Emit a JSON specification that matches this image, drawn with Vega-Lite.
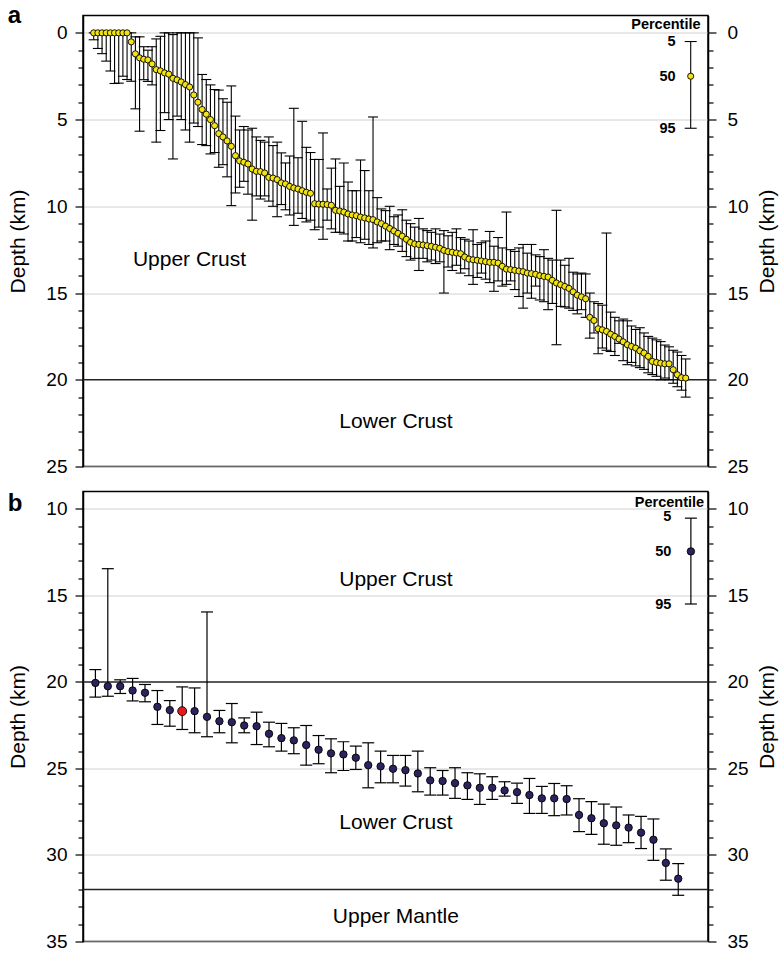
{
  "$schema": "https://vega.github.io/schema/vega-lite/v6.json",
  "padding": {"left": 7, "right": 2, "top": 2.5, "bottom": 2},
  "config": {
    "font": "Liberation Sans",
    "view": {"stroke": "black", "strokeWidth": 1.5},
    "axis": {
      "labelFontSize": 19, "labelColor": "black", "labelFont": "Liberation Sans",
      "titleFontSize": 21, "titleFontWeight": "normal", "titleColor": "black", "titleFont": "Liberation Sans",
      "domainColor": "black", "domainWidth": 1.5, "tickColor": "black", "tickWidth": 1.2,
      "labelPadding": 6, "labelOverlap": false, "titlePadding": 10
    }
  },
  "datasets": {
    "pa": [
      {"i":1,"m":0,"lo":0,"hi":0.4},{"i":2,"m":0,"lo":0,"hi":0.9},{"i":3,"m":0,"lo":0,"hi":1.2},{"i":4,"m":0,"lo":0,"hi":1.63},
      {"i":5,"m":0,"lo":0,"hi":2.2},{"i":6,"m":0,"lo":0,"hi":2.92},{"i":7,"m":0,"lo":0,"hi":2.9},{"i":8,"m":0,"lo":0,"hi":2.5},
      {"i":9,"m":0,"lo":0,"hi":2.69},{"i":10,"m":0.52,"lo":0,"hi":2.79},{"i":11,"m":1.21,"lo":0.23,"hi":4.38},{"i":12,"m":1.44,"lo":0.23,"hi":5.67},
      {"i":13,"m":1.52,"lo":0.8,"hi":2.7},{"i":14,"m":1.56,"lo":1.0,"hi":2.8},{"i":15,"m":1.79,"lo":0.8,"hi":3.0},{"i":16,"m":2.12,"lo":0.35,"hi":6.3},
      {"i":17,"m":2.19,"lo":0.2,"hi":5.63},{"i":18,"m":2.31,"lo":0,"hi":4.6},{"i":19,"m":2.38,"lo":0,"hi":5.0},{"i":20,"m":2.62,"lo":0.1,"hi":7.27},
      {"i":21,"m":2.71,"lo":0,"hi":4.8},{"i":22,"m":2.83,"lo":0,"hi":5.0},{"i":23,"m":2.98,"lo":0,"hi":5.6},{"i":24,"m":3.12,"lo":0,"hi":6.3},
      {"i":25,"m":3.58,"lo":0,"hi":5.2},{"i":26,"m":4.0,"lo":0.29,"hi":5.4},{"i":27,"m":4.42,"lo":2.4,"hi":6.44},{"i":28,"m":4.69,"lo":2.69,"hi":6.5},
      {"i":29,"m":5.0,"lo":3.0,"hi":6.98},{"i":30,"m":5.35,"lo":3.27,"hi":6.9},{"i":31,"m":5.81,"lo":3.3,"hi":7.75},{"i":32,"m":6.0,"lo":3.8,"hi":7.6},
      {"i":33,"m":6.23,"lo":4.0,"hi":8.3},{"i":34,"m":6.54,"lo":3.06,"hi":9.96},{"i":35,"m":7.08,"lo":4.8,"hi":9.23},{"i":36,"m":7.38,"lo":5.6,"hi":8.9},
      {"i":37,"m":7.46,"lo":5.4,"hi":8.56},{"i":38,"m":7.56,"lo":5.6,"hi":9.3},{"i":39,"m":7.85,"lo":5.5,"hi":10.8},{"i":40,"m":7.98,"lo":6.0,"hi":9.4},
      {"i":41,"m":8.0,"lo":6.2,"hi":9.58},{"i":42,"m":8.08,"lo":6.3,"hi":9.4},{"i":43,"m":8.33,"lo":6.0,"hi":9.7},{"i":44,"m":8.37,"lo":6.5,"hi":10.0},
      {"i":45,"m":8.46,"lo":6.3,"hi":10.6},{"i":46,"m":8.65,"lo":6.92,"hi":9.9},{"i":47,"m":8.71,"lo":7.5,"hi":10.2},{"i":48,"m":8.85,"lo":7.1,"hi":10.5},
      {"i":49,"m":8.94,"lo":4.35,"hi":11.1},{"i":50,"m":9.0,"lo":7.2,"hi":10.4},{"i":51,"m":9.1,"lo":5.1,"hi":10.7},{"i":52,"m":9.19,"lo":6.6,"hi":10.9},
      {"i":53,"m":9.25,"lo":6.9,"hi":10.8},{"i":54,"m":9.85,"lo":7.3,"hi":11.35},{"i":55,"m":9.87,"lo":7.3,"hi":11.2},{"i":56,"m":9.88,"lo":5.77,"hi":11.9},
      {"i":57,"m":9.9,"lo":9.0,"hi":10.8},{"i":58,"m":9.94,"lo":7.8,"hi":11.3},{"i":59,"m":10.23,"lo":7.27,"hi":11.5},{"i":60,"m":10.27,"lo":8.85,"hi":11.5},
      {"i":61,"m":10.33,"lo":7.5,"hi":11.6},{"i":62,"m":10.44,"lo":8.6,"hi":12.0},{"i":63,"m":10.5,"lo":9.1,"hi":12.0},{"i":64,"m":10.54,"lo":9.1,"hi":11.8},
      {"i":65,"m":10.62,"lo":7.33,"hi":12.1},{"i":66,"m":10.67,"lo":7.94,"hi":11.9},{"i":67,"m":10.73,"lo":9.1,"hi":12.2},{"i":68,"m":10.77,"lo":4.85,"hi":12.4},
      {"i":69,"m":10.9,"lo":9.5,"hi":12.1},{"i":70,"m":11.0,"lo":10.15,"hi":12.0},{"i":71,"m":11.14,"lo":10.25,"hi":12.0},{"i":72,"m":11.28,"lo":10.0,"hi":12.5},
      {"i":73,"m":11.42,"lo":10.6,"hi":12.2},{"i":74,"m":11.56,"lo":10.5,"hi":12.3},{"i":75,"m":11.72,"lo":10.2,"hi":12.6},{"i":76,"m":11.9,"lo":10.8,"hi":12.9},
      {"i":77,"m":12.08,"lo":11.0,"hi":13.1},{"i":78,"m":12.17,"lo":11.2,"hi":13.0},{"i":79,"m":12.2,"lo":10.7,"hi":13.7},{"i":80,"m":12.23,"lo":11.3,"hi":13.0},
      {"i":81,"m":12.27,"lo":11.4,"hi":13.2},{"i":82,"m":12.31,"lo":11.5,"hi":13.1},{"i":83,"m":12.36,"lo":11.3,"hi":13.3},{"i":84,"m":12.42,"lo":11.6,"hi":13.2},
      {"i":85,"m":12.54,"lo":11.4,"hi":15.0},{"i":86,"m":12.61,"lo":11.7,"hi":13.5},{"i":87,"m":12.65,"lo":11.5,"hi":13.7},{"i":88,"m":12.69,"lo":11.3,"hi":13.4},
      {"i":89,"m":12.73,"lo":11.8,"hi":13.85},{"i":90,"m":12.92,"lo":11.9,"hi":13.6},{"i":91,"m":13.04,"lo":12.0,"hi":14.0},{"i":92,"m":13.08,"lo":11.35,"hi":14.5},
      {"i":93,"m":13.11,"lo":12.2,"hi":14.1},{"i":94,"m":13.15,"lo":12.1,"hi":13.85},{"i":95,"m":13.19,"lo":12.0,"hi":14.2},{"i":96,"m":13.23,"lo":11.45,"hi":14.4},
      {"i":97,"m":13.23,"lo":12.3,"hi":14.9},{"i":98,"m":13.27,"lo":11.8,"hi":14.3},{"i":99,"m":13.46,"lo":12.4,"hi":14.6},{"i":100,"m":13.62,"lo":10.33,"hi":14.5},
      {"i":101,"m":13.65,"lo":12.5,"hi":14.3},{"i":102,"m":13.69,"lo":12.6,"hi":14.8},{"i":103,"m":13.73,"lo":12.4,"hi":15.2},{"i":104,"m":13.77,"lo":12.2,"hi":15.87},
      {"i":105,"m":13.85,"lo":12.7,"hi":15.0},{"i":106,"m":13.88,"lo":12.2,"hi":15.3},{"i":107,"m":13.92,"lo":12.8,"hi":14.6},{"i":108,"m":14.0,"lo":12.9,"hi":15.4},
      {"i":109,"m":14.04,"lo":12.5,"hi":15.5},{"i":110,"m":14.08,"lo":13.0,"hi":15.96},{"i":111,"m":14.27,"lo":13.1,"hi":15.6},{"i":112,"m":14.42,"lo":10.23,"hi":17.98},
      {"i":113,"m":14.52,"lo":13.1,"hi":15.77},{"i":114,"m":14.62,"lo":13.4,"hi":15.8},{"i":115,"m":14.73,"lo":13.0,"hi":15.87},{"i":116,"m":14.93,"lo":13.8,"hi":16.0},
      {"i":117,"m":15.12,"lo":13.9,"hi":16.2},{"i":118,"m":15.22,"lo":13.85,"hi":15.96},{"i":119,"m":15.33,"lo":13.9,"hi":16.4},{"i":120,"m":16.4,"lo":15.0,"hi":17.6},
      {"i":121,"m":16.58,"lo":15.5,"hi":17.3},{"i":122,"m":17.06,"lo":15.6,"hi":18.5},{"i":123,"m":17.12,"lo":15.7,"hi":18.17},{"i":124,"m":17.21,"lo":11.54,"hi":18.3},
      {"i":125,"m":17.37,"lo":16.1,"hi":18.37},{"i":126,"m":17.5,"lo":16.4,"hi":18.6},{"i":127,"m":17.65,"lo":16.6,"hi":17.9},{"i":128,"m":17.81,"lo":16.5,"hi":18.9},
      {"i":129,"m":17.98,"lo":16.6,"hi":19.13},{"i":130,"m":18.08,"lo":16.9,"hi":19.0},{"i":131,"m":18.17,"lo":17.1,"hi":19.2},{"i":132,"m":18.33,"lo":17.0,"hi":19.3},
      {"i":133,"m":18.46,"lo":17.3,"hi":19.4},{"i":134,"m":18.65,"lo":17.5,"hi":19.6},{"i":135,"m":18.94,"lo":17.6,"hi":19.7},{"i":136,"m":19.0,"lo":17.7,"hi":19.8},
      {"i":137,"m":19.04,"lo":17.8,"hi":20.0},{"i":138,"m":19.08,"lo":18.0,"hi":19.9},{"i":139,"m":19.08,"lo":18.1,"hi":20.0},{"i":140,"m":19.42,"lo":18.3,"hi":20.2},
      {"i":141,"m":19.71,"lo":18.4,"hi":20.4},{"i":142,"m":19.88,"lo":18.6,"hi":20.6},{"i":143,"m":19.9,"lo":18.8,"hi":21.0}
    ],
    "pb": [
      {"i":1,"m":20.06,"lo":19.29,"hi":20.88,"hl":"n"},{"i":2,"m":20.25,"lo":13.46,"hi":20.83,"hl":"n"},{"i":3,"m":20.25,"lo":19.88,"hi":20.67,"hl":"n"},
      {"i":4,"m":20.5,"lo":19.8,"hi":21.1,"hl":"n"},{"i":5,"m":20.63,"lo":20.15,"hi":21.15,"hl":"n"},{"i":6,"m":21.44,"lo":20.5,"hi":22.46,"hl":"n"},
      {"i":7,"m":21.63,"lo":21.08,"hi":22.56,"hl":"n"},{"i":8,"m":21.69,"lo":20.29,"hi":22.75,"hl":"y"},{"i":9,"m":21.69,"lo":20.35,"hi":22.94,"hl":"n"},
      {"i":10,"m":22.02,"lo":15.96,"hi":23.17,"hl":"n"},{"i":11,"m":22.27,"lo":21.65,"hi":22.94,"hl":"n"},{"i":12,"m":22.33,"lo":21.25,"hi":23.52,"hl":"n"},
      {"i":13,"m":22.52,"lo":22.08,"hi":22.94,"hl":"n"},{"i":14,"m":22.56,"lo":21.75,"hi":23.62,"hl":"n"},{"i":15,"m":23.0,"lo":22.33,"hi":23.75,"hl":"n"},
      {"i":16,"m":23.25,"lo":22.4,"hi":24.0,"hl":"n"},{"i":17,"m":23.38,"lo":22.65,"hi":24.15,"hl":"n"},{"i":18,"m":23.65,"lo":22.52,"hi":24.81,"hl":"n"},
      {"i":19,"m":23.92,"lo":23.1,"hi":24.73,"hl":"n"},{"i":20,"m":24.13,"lo":23.29,"hi":25.25,"hl":"n"},{"i":21,"m":24.19,"lo":23.46,"hi":25.12,"hl":"n"},
      {"i":22,"m":24.38,"lo":23.71,"hi":25.06,"hl":"n"},{"i":23,"m":24.81,"lo":23.52,"hi":26.12,"hl":"n"},{"i":24,"m":24.88,"lo":24.0,"hi":25.83,"hl":"n"},
      {"i":25,"m":25.02,"lo":24.25,"hi":25.83,"hl":"n"},{"i":26,"m":25.1,"lo":24.25,"hi":26.02,"hl":"n"},{"i":27,"m":25.29,"lo":24.0,"hi":26.35,"hl":"n"},
      {"i":28,"m":25.69,"lo":24.96,"hi":26.54,"hl":"n"},{"i":29,"m":25.73,"lo":25.12,"hi":26.54,"hl":"n"},{"i":30,"m":25.85,"lo":24.96,"hi":26.73,"hl":"n"},
      {"i":31,"m":25.98,"lo":25.25,"hi":26.79,"hl":"n"},{"i":32,"m":26.12,"lo":25.31,"hi":27.08,"hl":"n"},{"i":33,"m":26.12,"lo":25.48,"hi":26.79,"hl":"n"},
      {"i":34,"m":26.27,"lo":25.77,"hi":26.6,"hl":"n"},{"i":35,"m":26.37,"lo":25.85,"hi":27.02,"hl":"n"},{"i":36,"m":26.54,"lo":25.58,"hi":27.6,"hl":"n"},
      {"i":37,"m":26.73,"lo":26.04,"hi":27.6,"hl":"n"},{"i":38,"m":26.73,"lo":25.87,"hi":27.73,"hl":"n"},{"i":39,"m":26.77,"lo":26.0,"hi":27.69,"hl":"n"},
      {"i":40,"m":27.69,"lo":26.75,"hi":28.65,"hl":"n"},{"i":41,"m":27.88,"lo":26.92,"hi":28.81,"hl":"n"},{"i":42,"m":28.17,"lo":27.06,"hi":29.38,"hl":"n"},
      {"i":43,"m":28.29,"lo":27.23,"hi":29.44,"hl":"n"},{"i":44,"m":28.42,"lo":27.69,"hi":29.29,"hl":"n"},{"i":45,"m":28.71,"lo":27.77,"hi":29.63,"hl":"n"},
      {"i":46,"m":29.12,"lo":27.92,"hi":30.31,"hl":"n"},{"i":47,"m":30.46,"lo":29.65,"hi":31.46,"hl":"n"},{"i":48,"m":31.37,"lo":30.5,"hi":32.33,"hl":"n"}
    ],
    "lega": [{"i":144.2,"lo":0.5,"m":2.5,"hi":5.5}],
    "legb": [{"i":49.02,"lo":10.54,"m":12.46,"hi":15.5}],
    "leta": [{"i":140.57,"y":0.52,"t":"5"},{"i":140.57,"y":2.56,"t":"50"},{"i":140.57,"y":5.56,"t":"95"}],
    "letb": [{"i":47.45,"y":10.5,"t":"5"},{"i":47.45,"y":12.5,"t":"50"},{"i":47.45,"y":15.58,"t":"95"}],
    "pcta": [{"i":146.56,"y":-0.2,"t":"Percentile"}],
    "pctb": [{"i":50.09,"y":9.87,"t":"Percentile"}],
    "rega": [{"i":23.97,"y":13.1,"t":"Upper Crust"},{"i":73.5,"y":22.45,"t":"Lower Crust"}],
    "regb": [{"i":25.23,"y":14.1,"t":"Upper Crust"},{"i":25.23,"y":28.14,"t":"Lower Crust"},{"i":25.23,"y":33.58,"t":"Upper Mantle"}],
    "linea": [{"d":20}],
    "lineb": [{"d":20},{"d":32}]
  },
  "spacing": 13,
  "resolve": {"scale": {"x": "independent", "y": "independent"}},
  "vconcat": [
    {
      "width": 625, "height": 451,
      "title": {"text": "a", "anchor": "start", "frame": "bounds", "fontSize": 24, "fontWeight": "bold", "baseline": "alphabetic", "offset": -31, "color": "black"},
      "resolve": {"scale": {"y": "independent"}},
      "layer": [
        {
          "layer": [
            {"data": {"name": "linea"}, "mark": {"type": "rule", "color": "#222222", "strokeWidth": 1.5},
             "encoding": {"y": {"field": "d", "type": "quantitative", "scale": {"domain": [-1, 25], "reverse": true, "nice": false, "zero": false}, "axis": null}}},
            {"data": {"name": "pa"}, "mark": {"type": "rule", "color": "black", "strokeWidth": 1.1},
             "encoding": {"x": {"field": "i", "type": "quantitative", "scale": {"domain": [-1.57, 148.35], "nice": false, "zero": false}, "axis": null},
               "y": {"field": "lo", "type": "quantitative", "scale": {"domain": [-1, 25], "reverse": true, "nice": false, "zero": false}, "axis": null},
               "y2": {"field": "hi"}}},
            {"data": {"name": "pa"}, "mark": {"type": "tick", "orient": "horizontal", "color": "black", "size": 10, "thickness": 1.1, "opacity": 1},
             "encoding": {"x": {"field": "i", "type": "quantitative", "scale": {"domain": [-1.57, 148.35], "nice": false, "zero": false}, "axis": null},
               "y": {"field": "lo", "type": "quantitative", "scale": {"domain": [-1, 25], "reverse": true, "nice": false, "zero": false}, "axis": null}}},
            {"data": {"name": "pa"}, "mark": {"type": "tick", "orient": "horizontal", "color": "black", "size": 10, "thickness": 1.1, "opacity": 1},
             "encoding": {"x": {"field": "i", "type": "quantitative", "scale": {"domain": [-1.57, 148.35], "nice": false, "zero": false}, "axis": null},
               "y": {"field": "hi", "type": "quantitative", "scale": {"domain": [-1, 25], "reverse": true, "nice": false, "zero": false}, "axis": null}}},
            {"data": {"name": "pa"}, "mark": {"type": "circle", "size": 38, "fill": "#f3e313", "stroke": "black", "strokeWidth": 0.9, "opacity": 1},
             "encoding": {"x": {"field": "i", "type": "quantitative", "scale": {"domain": [-1.57, 148.35], "nice": false, "zero": false}, "axis": null},
               "y": {"field": "m", "type": "quantitative", "scale": {"domain": [-1, 25], "reverse": true, "nice": false, "zero": false}, "axis": null}}},
            {"data": {"name": "lega"}, "mark": {"type": "rule", "color": "black", "strokeWidth": 1.1},
             "encoding": {"x": {"field": "i", "type": "quantitative", "scale": {"domain": [-1.57, 148.35], "nice": false, "zero": false}, "axis": null},
               "y": {"field": "lo", "type": "quantitative", "scale": {"domain": [-1, 25], "reverse": true, "nice": false, "zero": false}, "axis": null},
               "y2": {"field": "hi"}}},
            {"data": {"name": "lega"}, "mark": {"type": "tick", "orient": "horizontal", "color": "black", "size": 12, "thickness": 1.1, "opacity": 1},
             "encoding": {"x": {"field": "i", "type": "quantitative", "scale": {"domain": [-1.57, 148.35], "nice": false, "zero": false}, "axis": null},
               "y": {"field": "lo", "type": "quantitative", "scale": {"domain": [-1, 25], "reverse": true, "nice": false, "zero": false}, "axis": null}}},
            {"data": {"name": "lega"}, "mark": {"type": "tick", "orient": "horizontal", "color": "black", "size": 12, "thickness": 1.1, "opacity": 1},
             "encoding": {"x": {"field": "i", "type": "quantitative", "scale": {"domain": [-1.57, 148.35], "nice": false, "zero": false}, "axis": null},
               "y": {"field": "hi", "type": "quantitative", "scale": {"domain": [-1, 25], "reverse": true, "nice": false, "zero": false}, "axis": null}}},
            {"data": {"name": "lega"}, "mark": {"type": "circle", "size": 38, "fill": "#f3e313", "stroke": "black", "strokeWidth": 0.9, "opacity": 1},
             "encoding": {"x": {"field": "i", "type": "quantitative", "scale": {"domain": [-1.57, 148.35], "nice": false, "zero": false}, "axis": null},
               "y": {"field": "m", "type": "quantitative", "scale": {"domain": [-1, 25], "reverse": true, "nice": false, "zero": false}, "axis": null}}},
            {"data": {"name": "leta"}, "mark": {"type": "text", "align": "right", "baseline": "middle", "fontSize": 14.5, "fontWeight": "bold", "color": "black"},
             "encoding": {"x": {"field": "i", "type": "quantitative", "scale": {"domain": [-1.57, 148.35], "nice": false, "zero": false}, "axis": null},
               "y": {"field": "y", "type": "quantitative", "scale": {"domain": [-1, 25], "reverse": true, "nice": false, "zero": false}, "axis": null},
               "text": {"field": "t"}}},
            {"data": {"name": "pcta"}, "mark": {"type": "text", "align": "right", "baseline": "alphabetic", "fontSize": 14.5, "fontWeight": "bold", "color": "black"},
             "encoding": {"x": {"field": "i", "type": "quantitative", "scale": {"domain": [-1.57, 148.35], "nice": false, "zero": false}, "axis": null},
               "y": {"field": "y", "type": "quantitative", "scale": {"domain": [-1, 25], "reverse": true, "nice": false, "zero": false}, "axis": null},
               "text": {"field": "t"}}},
            {"data": {"name": "rega"}, "mark": {"type": "text", "align": "center", "baseline": "middle", "fontSize": 21, "color": "black"},
             "encoding": {"x": {"field": "i", "type": "quantitative", "scale": {"domain": [-1.57, 148.35], "nice": false, "zero": false}, "axis": null},
               "y": {"field": "y", "type": "quantitative", "scale": {"domain": [-1, 25], "reverse": true, "nice": false, "zero": false}, "axis": null},
               "text": {"field": "t"}}}
          ]
        },
        {"data": {"name": "linea"}, "mark": {"type": "rule", "opacity": 0},
         "encoding": {"y": {"field": "d", "type": "quantitative", "scale": {"domain": [-1, 25], "reverse": true, "nice": false, "zero": false},
           "axis": {"orient": "left", "title": "Depth (km)", "values": [0,1,2,3,4,5,6,7,8,9,10,11,12,13,14,15,16,17,18,19,20,21,22,23,24,25],
             "labelExpr": "datum.value % 5 === 0 ? datum.label : ''", "labelPadding": 8, "titlePadding": 17,
             "tickSize": {"condition": {"test": "datum.value % 5 === 0", "value": 8}, "value": 5},
             "grid": true, "gridColor": "#d0d0d0", "gridWidth": 1,
             "gridOpacity": {"condition": {"test": "datum.value % 5 === 0 && datum.value !== 20", "value": 1}, "value": 0}}}}},
        {"data": {"name": "linea"}, "mark": {"type": "rule", "opacity": 0},
         "encoding": {"y": {"field": "d", "type": "quantitative", "scale": {"domain": [-1, 25], "reverse": true, "nice": false, "zero": false},
           "axis": {"orient": "right", "title": "Depth (km)", "titleAngle": -90, "titleBaseline": "top", "values": [0,1,2,3,4,5,6,7,8,9,10,11,12,13,14,15,16,17,18,19,20,21,22,23,24,25],
             "labelExpr": "datum.value % 5 === 0 ? datum.label : ''", "labelPadding": 11, "titlePadding": 8,
             "tickSize": {"condition": {"test": "datum.value % 5 === 0", "value": 8}, "value": 5},
             "grid": false}}}}
      ]
    },
    {
      "width": 625, "height": 450,
      "title": {"text": "b", "anchor": "start", "frame": "bounds", "fontSize": 24, "fontWeight": "bold", "baseline": "alphabetic", "offset": -43, "color": "black"},
      "resolve": {"scale": {"y": "independent"}},
      "layer": [
        {
          "layer": [
            {"data": {"name": "lineb"}, "mark": {"type": "rule", "color": "#222222", "strokeWidth": 1.5},
             "encoding": {"y": {"field": "d", "type": "quantitative", "scale": {"domain": [9, 35], "reverse": true, "nice": false, "zero": false}, "axis": null}}},
            {"data": {"name": "pb"}, "mark": {"type": "rule", "color": "black", "strokeWidth": 1.2},
             "encoding": {"x": {"field": "i", "type": "quantitative", "scale": {"domain": [0, 50.4], "nice": false, "zero": false}, "axis": null},
               "y": {"field": "lo", "type": "quantitative", "scale": {"domain": [9, 35], "reverse": true, "nice": false, "zero": false}, "axis": null},
               "y2": {"field": "hi"}}},
            {"data": {"name": "pb"}, "mark": {"type": "tick", "orient": "horizontal", "color": "black", "size": 12, "thickness": 1.2, "opacity": 1},
             "encoding": {"x": {"field": "i", "type": "quantitative", "scale": {"domain": [0, 50.4], "nice": false, "zero": false}, "axis": null},
               "y": {"field": "lo", "type": "quantitative", "scale": {"domain": [9, 35], "reverse": true, "nice": false, "zero": false}, "axis": null}}},
            {"data": {"name": "pb"}, "mark": {"type": "tick", "orient": "horizontal", "color": "black", "size": 12, "thickness": 1.2, "opacity": 1},
             "encoding": {"x": {"field": "i", "type": "quantitative", "scale": {"domain": [0, 50.4], "nice": false, "zero": false}, "axis": null},
               "y": {"field": "hi", "type": "quantitative", "scale": {"domain": [9, 35], "reverse": true, "nice": false, "zero": false}, "axis": null}}},
            {"data": {"name": "pb"}, "mark": {"type": "circle", "stroke": "black", "strokeWidth": 0.9, "opacity": 1},
             "encoding": {"x": {"field": "i", "type": "quantitative", "scale": {"domain": [0, 50.4], "nice": false, "zero": false}, "axis": null},
               "y": {"field": "m", "type": "quantitative", "scale": {"domain": [9, 35], "reverse": true, "nice": false, "zero": false}, "axis": null},
               "fill": {"field": "hl", "type": "nominal", "scale": {"domain": ["n", "y"], "range": ["#2a245e", "#e8191c"]}, "legend": null},
               "size": {"field": "hl", "type": "nominal", "scale": {"domain": ["n", "y"], "range": [55, 80]}, "legend": null}}},
            {"data": {"name": "legb"}, "mark": {"type": "rule", "color": "black", "strokeWidth": 1.2},
             "encoding": {"x": {"field": "i", "type": "quantitative", "scale": {"domain": [0, 50.4], "nice": false, "zero": false}, "axis": null},
               "y": {"field": "lo", "type": "quantitative", "scale": {"domain": [9, 35], "reverse": true, "nice": false, "zero": false}, "axis": null},
               "y2": {"field": "hi"}}},
            {"data": {"name": "legb"}, "mark": {"type": "tick", "orient": "horizontal", "color": "black", "size": 12, "thickness": 1.2, "opacity": 1},
             "encoding": {"x": {"field": "i", "type": "quantitative", "scale": {"domain": [0, 50.4], "nice": false, "zero": false}, "axis": null},
               "y": {"field": "lo", "type": "quantitative", "scale": {"domain": [9, 35], "reverse": true, "nice": false, "zero": false}, "axis": null}}},
            {"data": {"name": "legb"}, "mark": {"type": "tick", "orient": "horizontal", "color": "black", "size": 12, "thickness": 1.2, "opacity": 1},
             "encoding": {"x": {"field": "i", "type": "quantitative", "scale": {"domain": [0, 50.4], "nice": false, "zero": false}, "axis": null},
               "y": {"field": "hi", "type": "quantitative", "scale": {"domain": [9, 35], "reverse": true, "nice": false, "zero": false}, "axis": null}}},
            {"data": {"name": "legb"}, "mark": {"type": "circle", "size": 55, "fill": "#2a245e", "stroke": "black", "strokeWidth": 0.9, "opacity": 1},
             "encoding": {"x": {"field": "i", "type": "quantitative", "scale": {"domain": [0, 50.4], "nice": false, "zero": false}, "axis": null},
               "y": {"field": "m", "type": "quantitative", "scale": {"domain": [9, 35], "reverse": true, "nice": false, "zero": false}, "axis": null}}},
            {"data": {"name": "letb"}, "mark": {"type": "text", "align": "right", "baseline": "middle", "fontSize": 14.5, "fontWeight": "bold", "color": "black"},
             "encoding": {"x": {"field": "i", "type": "quantitative", "scale": {"domain": [0, 50.4], "nice": false, "zero": false}, "axis": null},
               "y": {"field": "y", "type": "quantitative", "scale": {"domain": [9, 35], "reverse": true, "nice": false, "zero": false}, "axis": null},
               "text": {"field": "t"}}},
            {"data": {"name": "pctb"}, "mark": {"type": "text", "align": "right", "baseline": "alphabetic", "fontSize": 14.5, "fontWeight": "bold", "color": "black"},
             "encoding": {"x": {"field": "i", "type": "quantitative", "scale": {"domain": [0, 50.4], "nice": false, "zero": false}, "axis": null},
               "y": {"field": "y", "type": "quantitative", "scale": {"domain": [9, 35], "reverse": true, "nice": false, "zero": false}, "axis": null},
               "text": {"field": "t"}}},
            {"data": {"name": "regb"}, "mark": {"type": "text", "align": "center", "baseline": "middle", "fontSize": 21, "color": "black"},
             "encoding": {"x": {"field": "i", "type": "quantitative", "scale": {"domain": [0, 50.4], "nice": false, "zero": false}, "axis": null},
               "y": {"field": "y", "type": "quantitative", "scale": {"domain": [9, 35], "reverse": true, "nice": false, "zero": false}, "axis": null},
               "text": {"field": "t"}}}
          ]
        },
        {"data": {"name": "lineb"}, "mark": {"type": "rule", "opacity": 0},
         "encoding": {"y": {"field": "d", "type": "quantitative", "scale": {"domain": [9, 35], "reverse": true, "nice": false, "zero": false},
           "axis": {"orient": "left", "title": "Depth (km)", "values": [10,11,12,13,14,15,16,17,18,19,20,21,22,23,24,25,26,27,28,29,30,31,32,33,34,35],
             "labelExpr": "datum.value % 5 === 0 ? datum.label : ''", "labelPadding": 8, "titlePadding": 17,
             "tickSize": {"condition": {"test": "datum.value % 5 === 0", "value": 8}, "value": 5},
             "grid": true, "gridColor": "#d0d0d0", "gridWidth": 1,
             "gridOpacity": {"condition": {"test": "datum.value % 5 === 0 && datum.value !== 20", "value": 1}, "value": 0}}}}},
        {"data": {"name": "lineb"}, "mark": {"type": "rule", "opacity": 0},
         "encoding": {"y": {"field": "d", "type": "quantitative", "scale": {"domain": [9, 35], "reverse": true, "nice": false, "zero": false},
           "axis": {"orient": "right", "title": "Depth (km)", "titleAngle": -90, "titleBaseline": "top", "values": [10,11,12,13,14,15,16,17,18,19,20,21,22,23,24,25,26,27,28,29,30,31,32,33,34,35],
             "labelExpr": "datum.value % 5 === 0 ? datum.label : ''", "labelPadding": 11, "titlePadding": 8,
             "tickSize": {"condition": {"test": "datum.value % 5 === 0", "value": 8}, "value": 5},
             "grid": false}}}}
      ]
    }
  ]
}
